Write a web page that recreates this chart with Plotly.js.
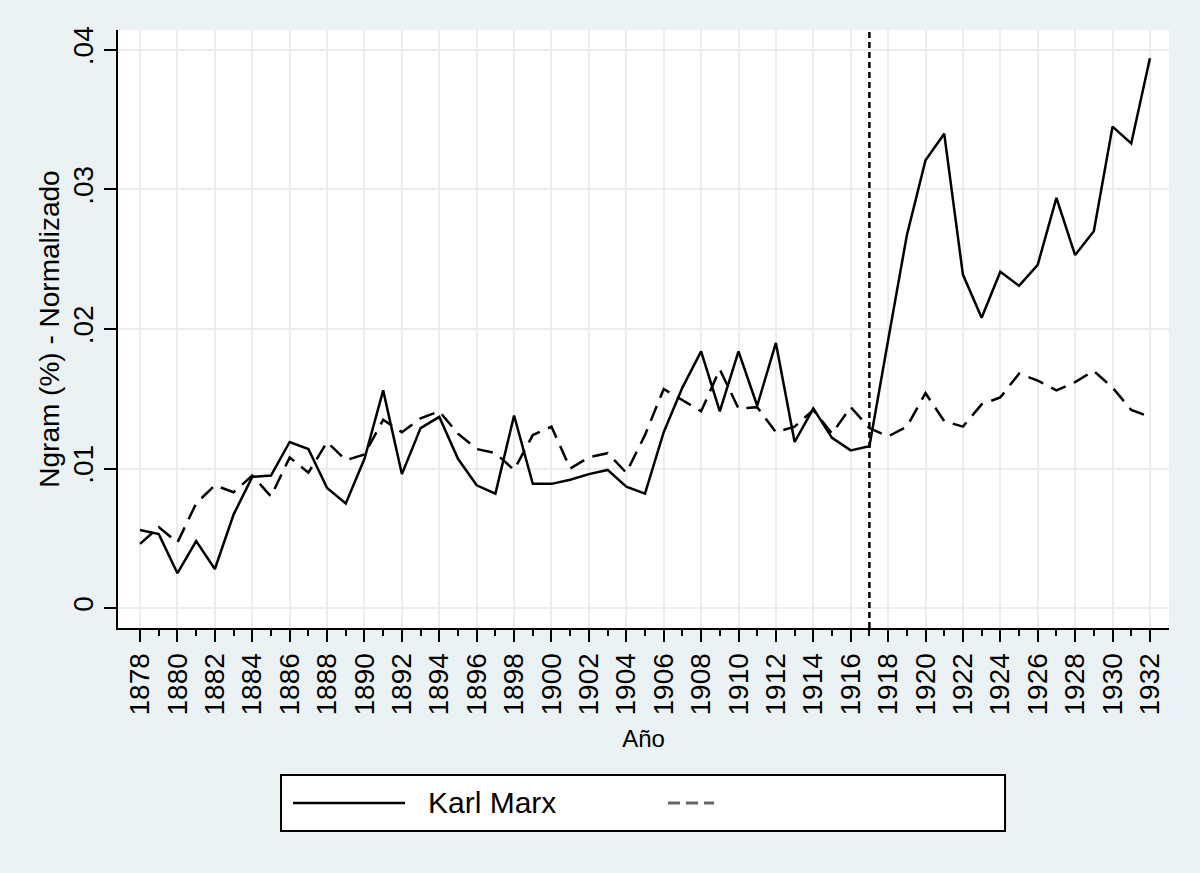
<!DOCTYPE html>
<html>
<head>
<meta charset="utf-8">
<script src="https://cdn.plot.ly/plotly-3.0.1.min.js"></script>
<style>
  html, body { margin: 0; padding: 0; background: #eaf2f3; }
  #chart { width: 1200px; height: 873px; }
</style>
</head>
<body>
<div id="chart"></div>
<script>
// years 1878 - 1932
var anios = [];
for (var a = 1878; a <= 1932; a++) anios.push(a);

// odd years get the small ticks
var aniosMenores = [];
for (var b = 1879; b <= 1931; b += 2) aniosMenores.push(b);

// Karl Marx (solid line)
var karlMarx = [
  .0056, .0053, .0025, .0048, .0028, .0067, .0094, .0095, .0119, .0114,
  .0086, .0075, .0107, .0156, .0096, .0129, .0137, .0107, .0088, .0082,
  .0138, .0089, .0089, .0092, .0096, .0099, .0087, .0082, .0126, .0158,
  .0184, .0141, .0184, .0145, .0190, .0119, .0143, .0122, .0113, .0116,
  .0192, .0267, .0321, .0340, .0239, .0208, .0241, .0231, .0246, .0294,
  .0253, .0270, .0345, .0333, .0394
];

// second series (dashed line, name hidden in the reference)
var serieDos = [
  .0046, .0058, .0047, .0075, .0088, .0083, .0095, .0080, .0108, .0097,
  .0119, .0106, .0110, .0135, .0126, .0136, .0141, .0125, .0114, .0111,
  .0099, .0124, .0130, .0100, .0108, .0111, .0097, .0124, .0157, .0149,
  .0141, .0171, .0143, .0144, .0126, .0130, .0142, .0125, .0144, .0129,
  .0123, .0130, .0154, .0134, .0130, .0146, .0151, .0168, .0163, .0156,
  .0162, .0170, .0158, .0142, .0137
];

var ticksY = [0, .01, .02, .03, .04];
var etiquetasY = ["0", ".01", ".02", ".03", ".04"];
var anioCorte = 1917;

var fuente = "'Liberation Sans', Arial, sans-serif";

var trace1 = {
  x: anios,
  y: karlMarx,
  name: "Karl Marx",
  type: "scatter",
  mode: "lines",
  line: { color: "#000000", width: 2.5 }
};

var trace2 = {
  x: anios,
  y: serieDos,
  name: " ",
  type: "scatter",
  mode: "lines",
  line: { color: "#000000", width: 2.5, dash: "16px,9px" }
};

var layout = {
  width: 1200,
  height: 873,
  paper_bgcolor: "#eaf2f3",
  plot_bgcolor: "#ffffff",
  showlegend: false,
  margin: { l: 118, r: 31, t: 30, b: 245 },
  font: { family: fuente, color: "#000000" },
  xaxis: {
    range: [1876.82, 1933.02],
    tickmode: "linear",
    tick0: 1878,
    dtick: 2,
    tickangle: -90,
    ticks: "outside",
    ticklen: 12,
    tickwidth: 2,
    tickcolor: "#000000",
    tickfont: { size: 28, family: fuente },
    showline: true,
    linecolor: "#000000",
    linewidth: 2,
    showgrid: true,
    gridcolor: "#ececec",
    gridwidth: 2,
    zeroline: false,
    minor: { ticks: "outside", ticklen: 6, tickwidth: 2, tickcolor: "#000000",
             tickmode: "array", tickvals: aniosMenores, showgrid: false },
    title: { text: "Año", font: { size: 24, family: fuente }, standoff: 16 }
  },
  yaxis: {
    range: [-0.00143, 0.04143],
    tickvals: ticksY,
    ticktext: etiquetasY,
    tickangle: -90,
    ticks: "outside",
    ticklen: 12,
    tickwidth: 2,
    tickcolor: "#000000",
    tickfont: { size: 28, family: fuente },
    showline: true,
    linecolor: "#000000",
    linewidth: 2,
    showgrid: true,
    gridcolor: "#ececec",
    gridwidth: 2,
    zeroline: false,
    title: { text: "Ngram (%) - Normalizado", font: { size: 28, family: fuente }, standoff: 0 }
  },
  shapes: [
    // vertical reference line at 1917
    { type: "line", xref: "x", yref: "paper", x0: anioCorte, x1: anioCorte, y0: 0, y1: 1,
      line: { color: "#000000", width: 2.5, dash: "6px,4px" } },
    // legend box
    { type: "rect", xref: "paper", yref: "paper", x0: 0.1551, x1: 0.844, y0: -0.2458, y1: -0.3395,
      fillcolor: "#ffffff", line: { color: "#000000", width: 2 } },
    { type: "line", xref: "paper", yref: "paper", x0: 0.1665, x1: 0.2731, y0: -0.2926, y1: -0.2926,
      line: { color: "#000000", width: 2.5 } },
    { type: "line", xref: "paper", yref: "paper", x0: 0.5233, x1: 0.5671, y0: -0.2926, y1: -0.2926,
      line: { color: "#666666", width: 3, dash: "12px,6px" } }
  ],
  annotations: [
    { xref: "paper", yref: "paper", x: 0.2931, y: -0.2926, xanchor: "left", yanchor: "middle",
      text: "Karl Marx", showarrow: false, font: { size: 30, family: fuente, color: "#000000" } }
  ]
};

Plotly.newPlot("chart", [trace1, trace2], layout, { displayModeBar: false, staticPlot: true });
</script>
</body>
</html>
